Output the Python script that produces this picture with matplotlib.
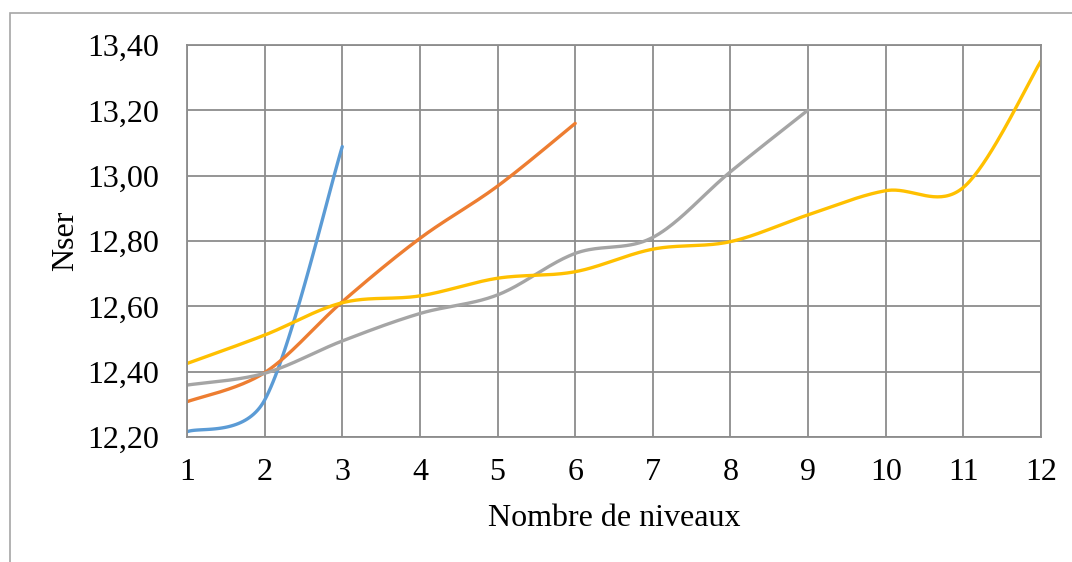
import numpy as np
import matplotlib
matplotlib.use("Agg")
import matplotlib.pyplot as plt
from matplotlib.patches import Rectangle
from matplotlib.ticker import FuncFormatter

# values
niveaux = list(range(1, 13))
serie1 = [12.216, 12.313, 13.089]
serie2 = [12.308, 12.397, 12.614, 12.808, 12.968, 13.160]
serie3 = [12.359, 12.395, 12.494, 12.578, 12.635, 12.762, 12.811, 13.012, 13.201]
serie4 = [12.425, 12.512, 12.611, 12.632, 12.686, 12.706, 12.775, 12.798, 12.880, 12.954, 12.964, 13.351]

colors = ['#5B9BD5', '#ED7D31', '#A5A5A5', '#FFC000']

# pixel size of one unit on each axis, used for the smoothing
XPX = 77.6
YPX = 326.7


# Excel-like smoothed line (Bezier with limited control points)
def smooth(x, y, n=40):
    P = np.column_stack([np.asarray(x, float) * XPX, np.asarray(y, float) * YPX])
    P = np.vstack([P[0], P, P[-1]])
    t = np.linspace(0, 1, n)[:, None]
    pts = []
    for i in range(1, len(P) - 2):
        p0, p1, p2, p3 = P[i - 1], P[i], P[i + 1], P[i + 2]
        d12 = np.linalg.norm(p2 - p1)
        d02 = np.linalg.norm(p2 - p0)
        d13 = np.linalg.norm(p3 - p1)
        f1 = 1 / 6 if d02 / 6 < d12 / 2 else d12 / d02 / 2
        f2 = 1 / 6 if d13 / 6 < d12 / 2 else d12 / d13 / 2
        c1 = p1 + (p2 - p0) * f1
        c2 = p2 - (p3 - p1) * f2
        pts.append((1 - t) ** 3 * p1 + 3 * (1 - t) ** 2 * t * c1
                   + 3 * (1 - t) * t ** 2 * c2 + t ** 3 * p2)
    pts = np.vstack(pts)
    return pts[:, 0] / XPX, pts[:, 1] / YPX


plt.rcParams['font.family'] = 'Liberation Serif'

fig = plt.figure(figsize=(10.72, 5.62), dpi=100)
fig.patches.append(Rectangle((10 / 1072, -0.1), 1.1, 1 - 13 / 562 + 0.1,
                             transform=fig.transFigure, fill=False,
                             edgecolor='#A6A6A6', linewidth=1.2))

ax = fig.add_axes([187 / 1072, 1 - 437 / 562, (1041 - 187) / 1072, (437 - 45) / 562])

for ys, c in zip([serie1, serie2, serie3, serie4], colors):
    sx, sy = smooth(niveaux[:len(ys)], ys)
    ax.plot(sx, sy, color=c, linewidth=2.4, solid_capstyle='round')

ax.set_xlim(1, 12)
ax.set_ylim(12.2, 13.4)
ax.set_xticks(niveaux)
ax.set_yticks(np.arange(12.2, 13.41, 0.2))
ax.yaxis.set_major_formatter(FuncFormatter(lambda v, p: f"{v:.2f}".replace('.', ',')))
ax.grid(True, color='#8C8C8C', linewidth=1.3)
ax.set_axisbelow(True)
for s in ax.spines.values():
    s.set_color('#8C8C8C')
    s.set_linewidth(1.3)
ax.tick_params(axis='y', length=0, labelsize=23, pad=20, colors='black')
ax.tick_params(axis='x', length=0, labelsize=23, pad=15, colors='black')
ax.set_xlabel('Nombre de niveaux', fontsize=23, labelpad=12)
ax.set_ylabel('Nser', fontsize=23, labelpad=5)

fig.savefig('out.png', dpi=100)
